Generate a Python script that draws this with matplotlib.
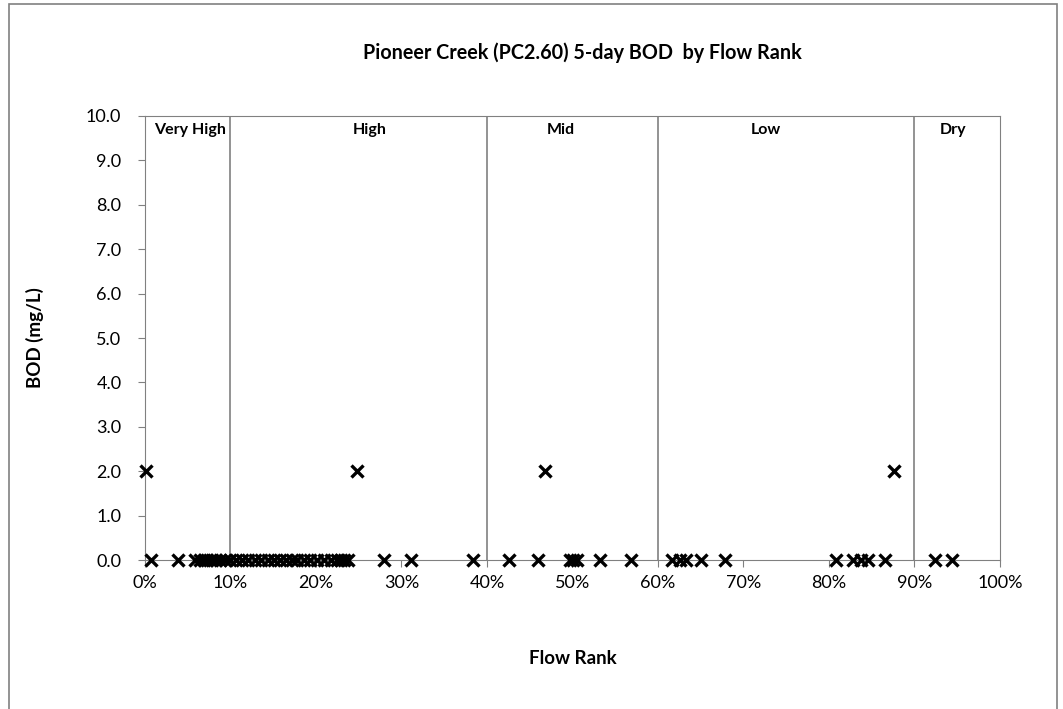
import matplotlib.pyplot as plt
from matplotlib.patches import Rectangle
from matplotlib.ticker import PercentFormatter

plt.rcParams['font.family'] = ['Lato', 'DejaVu Sans']

# flow rank (%) and BOD (mg/L)
rank_zero = [0.7, 3.9, 5.9, 6.4, 6.9, 7.3, 7.8, 8.3, 8.8, 9.3, 9.9, 10.6, 11.3,
             12.0, 12.9, 13.6, 14.4, 15.1, 15.8, 16.5, 17.2, 17.8, 18.6, 19.3,
             20.1, 20.9, 21.7, 22.5, 22.9, 23.3, 23.7, 28.0, 31.1, 38.4, 42.6,
             46.0, 49.7, 50.1, 50.5, 53.2, 56.8, 61.6, 62.6, 63.3, 65.0, 67.8,
             80.8, 82.8, 83.7, 84.6, 86.6, 92.4, 94.4]
bod_zero = [0.0] * len(rank_zero)
rank_two = [0.1, 24.8, 46.8, 87.6]
bod_two = [2.0, 2.0, 2.0, 2.0]

breaks = [10, 40, 60, 90]
zone_names = ["Very High", "High", "Mid", "Low", "Dry"]
zone_pos = [5.3, 26.3, 48.6, 72.6, 94.5]

fig = plt.figure(figsize=(10.63, 7.09), dpi=100)
ax = fig.add_axes([0.1364, 0.2101, 0.8043, 0.6263])

ax.plot(rank_zero + rank_two, bod_zero + bod_two, 'x', color='black',
        markersize=8, markeredgewidth=2.4, clip_on=False, zorder=3)

for b in breaks:
    ax.axvline(b, color='#808080', linewidth=1.2, zorder=1)
for name, xp in zip(zone_names, zone_pos):
    ax.text(xp, 9.68, name, ha='center', va='center', fontsize=11.5,
            fontweight='bold')

ax.set_xlim(0, 100)
ax.set_ylim(0, 10)
ax.set_xticks(range(0, 101, 10))
ax.set_yticks(range(0, 11))
ax.xaxis.set_major_formatter(PercentFormatter(decimals=0))
ax.set_yticklabels([f"{v:.1f}" for v in range(0, 11)])
ax.tick_params(labelsize=13, color='#808080', length=5)
ax.tick_params(axis='y', pad=12)
ax.tick_params(axis='x', pad=6)
for s in ax.spines.values():
    s.set_color('#808080')

fig.text(0.548, 0.925, "Pioneer Creek (PC2.60) 5-day BOD  by Flow Rank",
         fontsize=14.2, fontweight='bold', ha='center', va='center')
ax.set_ylabel("BOD (mg/L)", fontsize=13.5, fontweight='bold', labelpad=30)
ax.set_xlabel("Flow Rank", fontsize=13.5, fontweight='bold', labelpad=42)

fig.patches.append(Rectangle((0.008, -0.01), 0.986, 1.004, transform=fig.transFigure,
                             fill=False, edgecolor='#808080', linewidth=1.2))

fig.savefig("out.png", dpi=100)
